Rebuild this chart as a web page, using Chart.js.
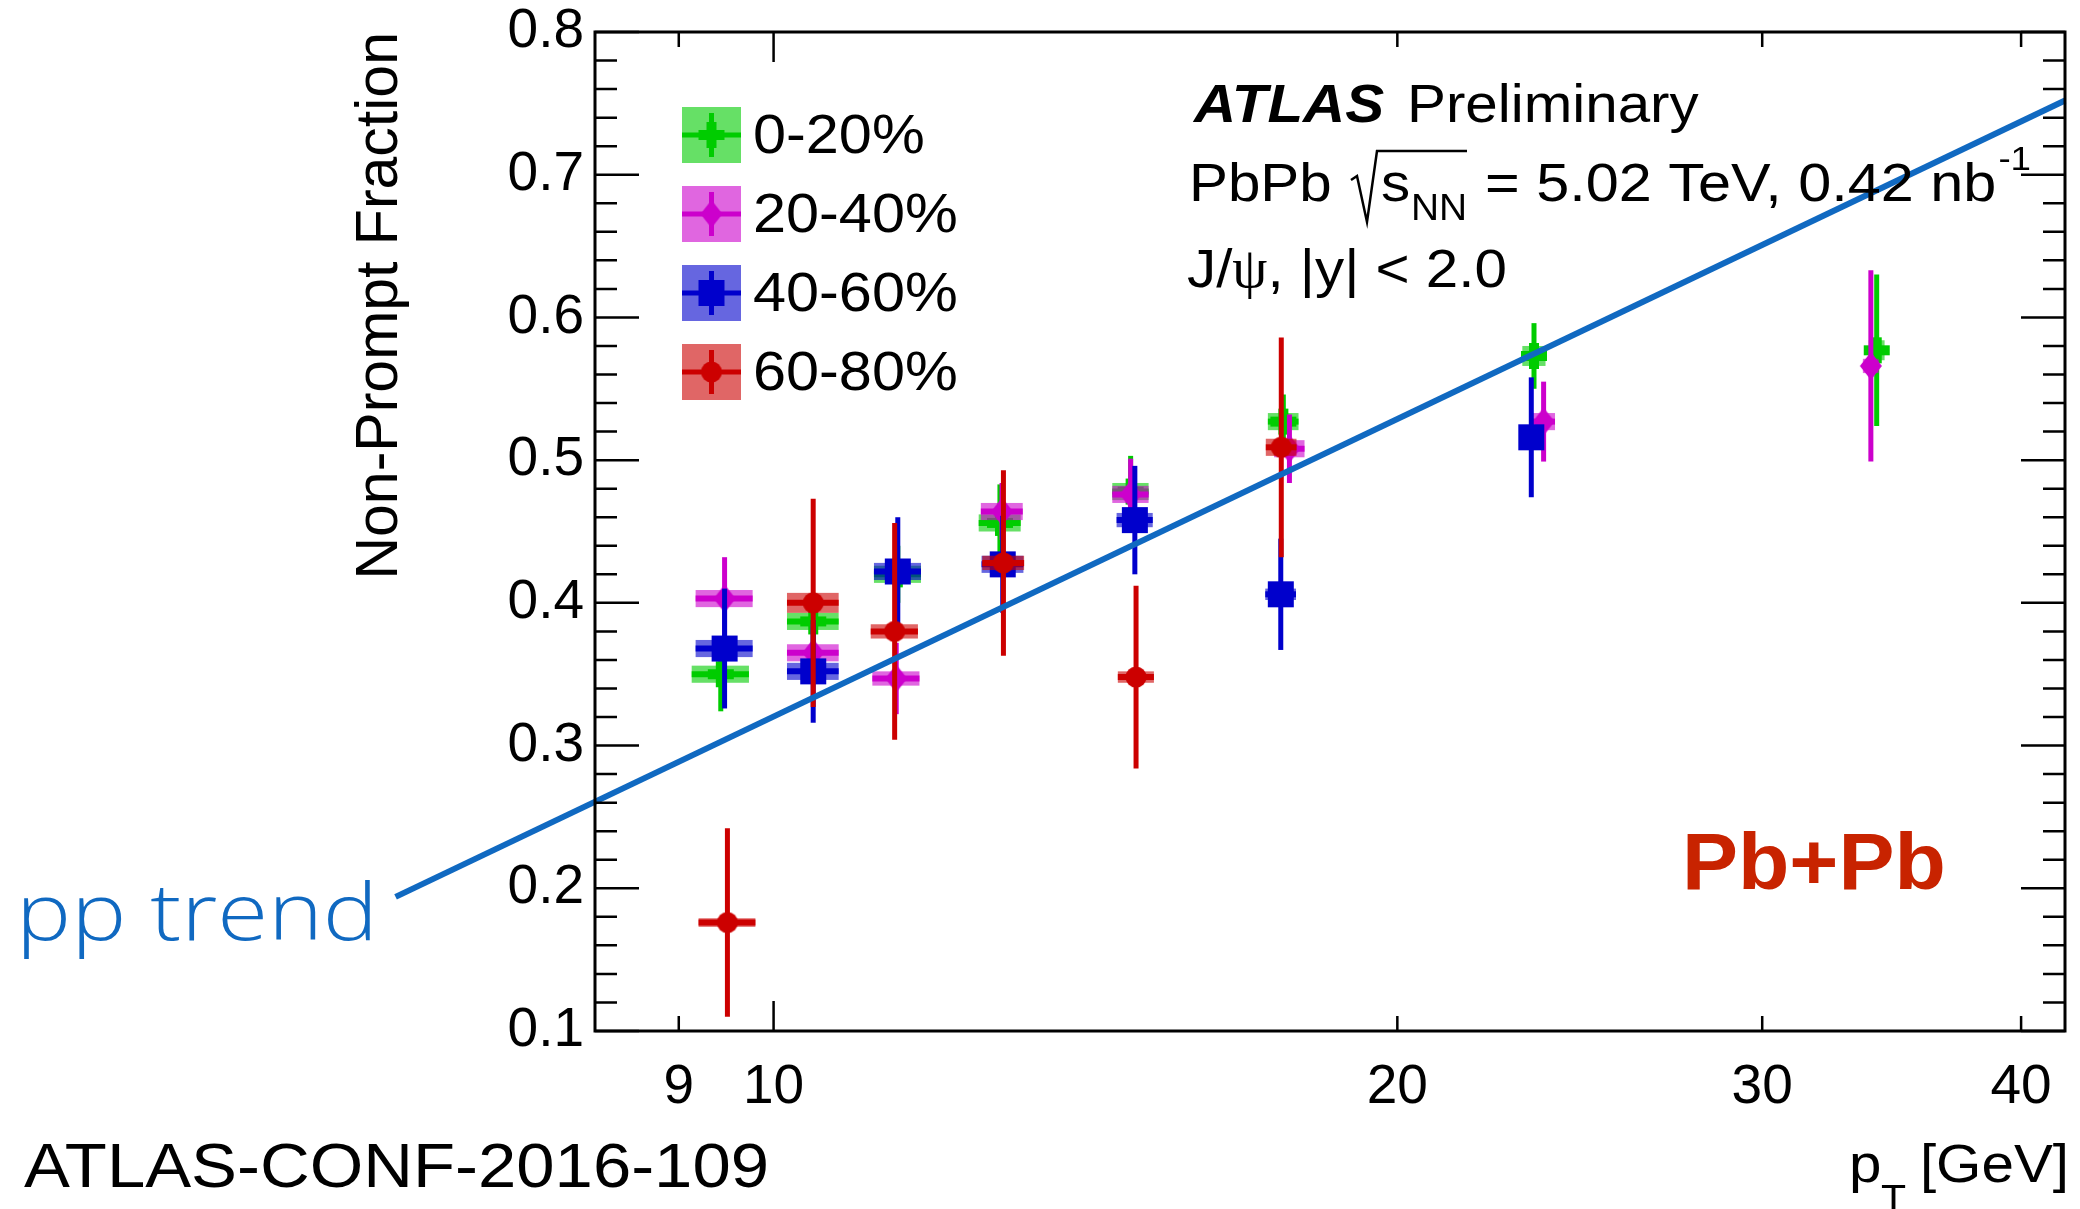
<!DOCTYPE html>
<html>
<head>
<meta charset="utf-8">
<title>Non-prompt J/psi fraction, Pb+Pb</title>
<script src="https://cdn.jsdelivr.net/npm/chart.js@4.4.1/dist/chart.umd.min.js"></script>
<style>
  html, body { margin: 0; padding: 0; background: #ffffff; }
  #wrap { width: 2080px; height: 1209px; }
</style>
</head>
<body>
<div id="wrap"><canvas id="chart" width="2080" height="1209"></canvas></div>
<script>
// Non-prompt J/psi fraction vs pT in four centrality classes, with the pp trend

const centralityBins = ['0-20%', '20-40%', '40-60%', '60-80%'];

// 0-20%
const ptCent0020 = [9.43, 10.45, 11.48, 12.86, 14.87, 17.62, 23.28, 34.07];
const fracCent0020 = [0.350, 0.387, 0.420, 0.456, 0.478, 0.527, 0.573, 0.577];
const statCent0020 = [0.026, 0.020, 0.020, 0.027, 0.025, 0.019, 0.023, 0.053];
const systCent0020 = [0.006, 0.006, 0.006, 0.006, 0.006, 0.006, 0.007, 0.007];

// 20-40%
const ptCent2040 = [9.47, 10.45, 11.46, 12.89, 14.87, 17.74, 23.53, 33.85];
const fracCent2040 = [0.403, 0.365, 0.347, 0.464, 0.476, 0.508, 0.527, 0.566];
const statCent2040 = [0.029, 0.020, 0.025, 0.020, 0.025, 0.024, 0.028, 0.067];
const systCent2040 = [0.006, 0.006, 0.005, 0.006, 0.006, 0.006, 0.006, 0.005];

// 40-60%
const ptCent4060 = [9.47, 10.45, 11.48, 12.90, 14.94, 17.57, 23.21];
const fracCent4060 = [0.368, 0.352, 0.422, 0.427, 0.458, 0.406, 0.516];
const statCent4060 = [0.042, 0.036, 0.038, 0.034, 0.038, 0.039, 0.042];
const systCent4060 = [0.006, 0.006, 0.006, 0.006, 0.005, 0.004, 0.003];

// 60-80%
const ptCent6080 = [9.50, 10.45, 11.44, 12.91, 14.96, 17.58];
const fracCent6080 = [0.176, 0.400, 0.380, 0.428, 0.348, 0.509];
const statCent6080 = [0.066, 0.073, 0.076, 0.065, 0.064, 0.077];
const systCent6080 = [0.003, 0.007, 0.005, 0.005, 0.004, 0.006];

// pp trend line end points
const ppTrendPt = [6.57, 42];
const ppTrendFrac = [0.194, 0.752];

// half width of the systematic boxes, GeV
const boxHalfWidth = 0.3;

const xTickValues = [9, 10, 20, 30, 40];
const xMajorTicks = [10];
const yTickValues = [0.1, 0.2, 0.3, 0.4, 0.5, 0.6, 0.7, 0.8];

const FONT = '"Liberation Sans", Arial, Helvetica, sans-serif';
const SX = 1.08; // ROOT text is a bit wider than Liberation Sans

const seriesColors = ['#00cc00', '#cc00cc', '#0000cc', '#cc0000'];
const boxColors = ['rgba(0,204,0,0.6)', 'rgba(204,0,204,0.6)', 'rgba(0,0,204,0.6)', 'rgba(204,0,0,0.6)'];
const markerShapes = ['cross', 'diamond', 'square', 'circle'];

// Small canvases used as point styles (ROOT markers 34, 33, 21, 20)
function markerCanvas(shape, color) {
  const c = document.createElement('canvas');
  c.width = 28;
  c.height = 28;
  const g = c.getContext('2d');
  const m = 14;
  g.fillStyle = color;
  if (shape === 'cross') {
    g.fillRect(1, m - 5, 26, 10);
    g.fillRect(m - 5, 1, 10, 26);
  } else if (shape === 'diamond') {
    g.beginPath();
    g.moveTo(m, 0);
    g.lineTo(m + 11, m);
    g.lineTo(m, 28);
    g.lineTo(m - 11, m);
    g.closePath();
    g.fill();
  } else if (shape === 'square') {
    g.fillRect(1, 1, 26, 26);
  } else {
    g.beginPath();
    g.arc(m, m, 10.5, 0, Math.PI * 2);
    g.fill();
  }
  return c;
}

const markers = markerShapes.map((s, i) => markerCanvas(s, seriesColors[i]));

function toPoints(xs, ys) {
  return xs.map((x, i) => ({ x: x, y: ys[i] }));
}

const seriesPt = [ptCent0020, ptCent2040, ptCent4060, ptCent6080];
const seriesFrac = [fracCent0020, fracCent2040, fracCent4060, fracCent6080];
const seriesStat = [statCent0020, statCent2040, statCent4060, statCent6080];
const seriesSyst = [systCent0020, systCent2040, systCent4060, systCent6080];

// green drawn first, red last; the pp line goes over everything
const datasets = centralityBins.map((label, i) => ({
  label: label,
  data: toPoints(seriesPt[i], seriesFrac[i]),
  stat: seriesStat[i],
  syst: seriesSyst[i],
  boxColor: boxColors[i],
  borderColor: seriesColors[i],
  backgroundColor: seriesColors[i],
  pointStyle: markers[i],
  pointRadius: 14,
  showLine: false,
  order: 4 - i
}));

datasets.push({
  label: 'pp trend',
  data: toPoints(ppTrendPt, ppTrendFrac),
  showLine: true,
  borderColor: '#1069c1',
  borderWidth: 6,
  pointRadius: 0,
  clip: false,
  order: 0
});

function drawText(ctx, text, x, y, font, color, sx, align) {
  ctx.save();
  ctx.font = font;
  ctx.fillStyle = color;
  ctx.textBaseline = 'alphabetic';
  ctx.textAlign = align || 'left';
  ctx.translate(x, y);
  ctx.scale(sx || SX, 1);
  ctx.fillText(text, 0, 0);
  const w = ctx.measureText(text).width * (sx || SX);
  ctx.restore();
  return w;
}

function drawTextFit(ctx, text, x, y, font, color, width) {
  ctx.save();
  ctx.font = font;
  const sx = width / ctx.measureText(text).width;
  ctx.restore();
  return drawText(ctx, text, x, y, font, color, sx);
}

// Stat error bars and systematic boxes, drawn just before each dataset's markers
const errorBoxes = {
  id: 'errorBoxes',
  beforeDatasetDraw(chart, args) {
    const ds = chart.data.datasets[args.index];
    if (!ds.stat) return;
    const { ctx } = chart;
    const xs = chart.scales.x;
    const ys = chart.scales.y;
    ctx.save();
    ds.data.forEach((p, i) => {
      const x0 = xs.getPixelForValue(p.x - boxHalfWidth);
      const x1 = xs.getPixelForValue(p.x + boxHalfWidth);
      const px = xs.getPixelForValue(p.x);
      const py = ys.getPixelForValue(p.y);
      const sTop = ys.getPixelForValue(p.y + ds.syst[i]);
      const sBot = ys.getPixelForValue(p.y - ds.syst[i]);
      ctx.fillStyle = ds.boxColor;
      ctx.fillRect(x0, sTop, x1 - x0, sBot - sTop);

      ctx.strokeStyle = ds.borderColor;
      ctx.lineCap = 'butt';
      ctx.lineWidth = 6;
      ctx.beginPath();
      ctx.moveTo(x0, py);
      ctx.lineTo(x1, py);
      ctx.stroke();

      ctx.lineWidth = 5;
      ctx.beginPath();
      ctx.moveTo(px, ys.getPixelForValue(p.y + ds.stat[i]));
      ctx.lineTo(px, ys.getPixelForValue(p.y - ds.stat[i]));
      ctx.stroke();
    });
    ctx.restore();
  }
};

// Frame with inward ticks on all four sides, legend and labels
const rootFrame = {
  id: 'rootFrame',
  afterDraw(chart) {
    const { ctx, chartArea: a } = chart;
    const xs = chart.scales.x;
    const ys = chart.scales.y;
    ctx.save();
    ctx.strokeStyle = '#000';

    // y ticks: major every 0.1, minor every 0.02
    ctx.lineWidth = 2.5;
    ctx.beginPath();
    for (let k = 0; k <= 35; k++) {
      const v = 0.1 + k * 0.02;
      const py = ys.getPixelForValue(v);
      const len = k % 5 === 0 ? 44 : 22;
      ctx.moveTo(a.left, py);
      ctx.lineTo(a.left + len, py);
      ctx.moveTo(a.right, py);
      ctx.lineTo(a.right - len, py);
    }
    // x ticks
    xTickValues.forEach(v => {
      const px = xs.getPixelForValue(v);
      const len = xMajorTicks.includes(v) ? 30 : 15;
      ctx.moveTo(px, a.bottom);
      ctx.lineTo(px, a.bottom - len);
      ctx.moveTo(px, a.top);
      ctx.lineTo(px, a.top + len);
    });
    ctx.stroke();

    ctx.lineWidth = 3;
    ctx.strokeRect(a.left, a.top, a.right - a.left, a.bottom - a.top);

    // legend
    centralityBins.forEach((label, i) => {
      const cy = 135 + i * 79;
      const bx = 682, bw = 59, bh = 56;
      const cx = bx + bw / 2;
      ctx.fillStyle = boxColors[i];
      ctx.fillRect(bx, cy - bh / 2, bw, bh);
      ctx.strokeStyle = seriesColors[i];
      ctx.lineWidth = 5;
      ctx.beginPath();
      ctx.moveTo(bx, cy);
      ctx.lineTo(bx + bw, cy);
      ctx.moveTo(cx, cy - 22);
      ctx.lineTo(cx, cy + 22);
      ctx.stroke();
      const mk = markers[i];
      ctx.drawImage(mk, cx - mk.width / 2, cy - mk.height / 2);
      drawText(ctx, label, 753, cy + 18, '55px ' + FONT, '#000');
    });

    // ATLAS label block
    drawText(ctx, 'ATLAS', 1194, 122, 'italic bold 54px ' + FONT, '#000');
    drawText(ctx, 'Preliminary', 1407, 122, '54px ' + FONT, '#000');

    drawText(ctx, 'PbPb', 1189, 201, '54px ' + FONT, '#000');
    ctx.strokeStyle = '#000';
    ctx.lineWidth = 2.5;
    ctx.beginPath();
    ctx.moveTo(1351, 180);
    ctx.lineTo(1357, 176);
    ctx.lineTo(1367, 222);
    ctx.lineTo(1377, 151);
    ctx.lineTo(1467, 151);
    ctx.stroke();
    drawText(ctx, 's', 1381, 201, '54px ' + FONT, '#000');
    drawText(ctx, 'NN', 1411, 220, '36px ' + FONT, '#000');
    const eqW = drawText(ctx, '= 5.02 TeV, 0.42 nb', 1485, 201, '54px ' + FONT, '#000', 1.1);
    drawText(ctx, '-1', 1485 + eqW + 2, 170, '34px ' + FONT, '#000');

    let x = 1187;
    x += drawText(ctx, 'J/', x, 287, '54px ' + FONT, '#000');
    x += drawText(ctx, 'ψ', x, 287, '56px "Liberation Serif", "DejaVu Serif", serif', '#000', 1.0);
    drawText(ctx, ', |y| < 2.0', x, 287, '54px ' + FONT, '#000');

    drawText(ctx, 'Pb+Pb', 1682, 889, 'bold 80px ' + FONT, '#c82300', 1.05);

    // x axis title
    drawText(ctx, 'p', 1849, 1182, '54px ' + FONT, '#000');
    drawText(ctx, 'T', 1881, 1212, '38px ' + FONT, '#000');
    drawText(ctx, '[GeV]', 2069, 1182, '54px ' + FONT, '#000', SX, 'right');

    drawTextFit(ctx, 'pp trend', 16, 940, '300 80px "Open Sans", Roboto, ' + FONT, '#1069c1', 362);
    drawTextFit(ctx, 'ATLAS-CONF-2016-109', 24, 1187, '63px ' + FONT, '#000', 745);

    ctx.restore();
  }
};

new Chart(document.getElementById('chart'), {
  type: 'scatter',
  data: { datasets: datasets },
  options: {
    responsive: false,
    animation: false,
    events: [],
    layout: { padding: { top: 32, right: 10, bottom: 0, left: 0 } },
    plugins: {
      legend: { display: false },
      tooltip: { enabled: false }
    },
    scales: {
      x: {
        type: 'logarithmic',
        position: 'bottom',
        min: 8.2,
        max: 42,
        grid: { display: false, drawTicks: false },
        border: { display: false },
        afterBuildTicks: scale => { scale.ticks = xTickValues.map(v => ({ value: v })); },
        afterFit: scale => { scale.height = 178; },
        ticks: {
          autoSkip: false,
          maxRotation: 0,
          padding: 0,
          color: '#000',
          // tall line box puts the label middle ~57px below the axis
          font: { family: FONT, size: 55, lineHeight: 2.07 },
          callback: v => String(v)
        }
      },
      y: {
        type: 'linear',
        position: 'left',
        min: 0.1,
        max: 0.8,
        grid: { display: false, drawTicks: false },
        border: { display: false },
        afterBuildTicks: scale => { scale.ticks = yTickValues.map(v => ({ value: v })); },
        afterFit: scale => { scale.width = 595; },
        ticks: {
          padding: 11,
          color: '#000',
          font: { family: FONT, size: 55, lineHeight: 0.7 },
          callback: v => Number(v).toFixed(1)
        },
        title: {
          display: true,
          text: 'Non-Prompt Fraction',
          align: 'end',
          color: '#000',
          font: { family: FONT, size: 59 },
          padding: { top: 345, bottom: 0 }
        }
      }
    }
  },
  plugins: [errorBoxes, rootFrame]
});
</script>
</body>
</html>
